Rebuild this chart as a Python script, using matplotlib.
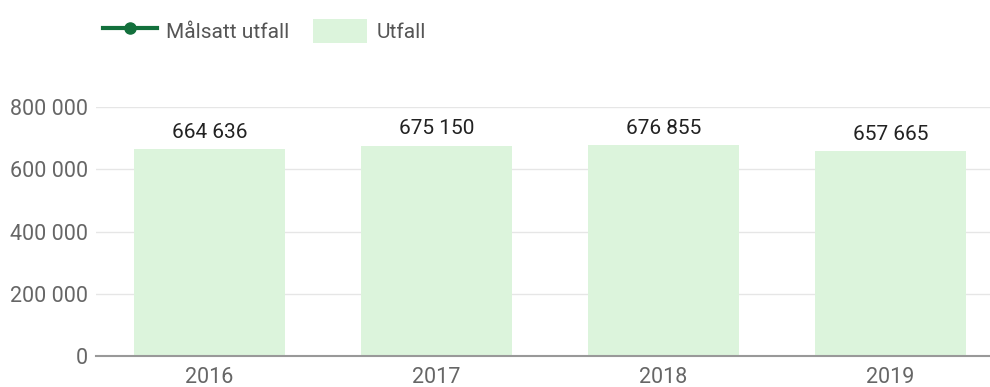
import matplotlib.pyplot as plt
from matplotlib.patches import Patch
from matplotlib.lines import Line2D

plt.rcParams['font.family'] = ['Roboto', 'DejaVu Sans']

years = ['2016', '2017', '2018', '2019']
utfall = [664636, 675150, 676855, 657665]
yticks = [0, 200000, 400000, 600000, 800000]

bar_color = '#dcf4dc'
line_color = '#13703c'


def fmt(v):
    return f'{v:,}'.replace(',', ' ')


fig = plt.figure(figsize=(9.9, 3.87), dpi=100)
ax = fig.add_axes([0.097, 0.080, 0.903, 0.6435])

x = range(len(years))
bars = ax.bar(x, utfall, width=0.665, color=bar_color, zorder=2)
for xi, v in zip(x, utfall):
    ax.text(xi, v + 24000, fmt(v), ha='center', va='bottom',
            fontsize=15, color='#222222')

ax.set_xlim(-0.5, 3.438)
ax.set_ylim(0, 800000)
ax.set_yticks(yticks)
ax.set_yticklabels([fmt(t) for t in yticks])
ax.set_xticks(list(x))
ax.set_xticklabels(years)
ax.tick_params(axis='both', length=0, labelsize=15.5, colors='#666666')
ax.tick_params(axis='y', pad=6)
ax.tick_params(axis='x', pad=8)
ax.grid(axis='y', color='#e6e6e6', lw=1, zorder=0)
for s in ['top', 'right', 'left']:
    ax.spines[s].set_visible(False)
ax.spines['bottom'].set_color('#999999')
ax.spines['bottom'].set_linewidth(1.5)

handles = [
    Line2D([], [], color=line_color, lw=3, marker='o', markersize=8),
    Patch(facecolor=bar_color, edgecolor='none'),
]
fig.legend(handles, ['Målsatt utfall', 'Utfall'], loc='upper left',
           bbox_to_anchor=(0.085, 1.0), ncol=2, frameon=False,
           fontsize=15, labelcolor='#555555', handlelength=2.6,
           handleheight=1.45, columnspacing=1.1, handletextpad=0.45)

fig.savefig('out.png', dpi=100)
